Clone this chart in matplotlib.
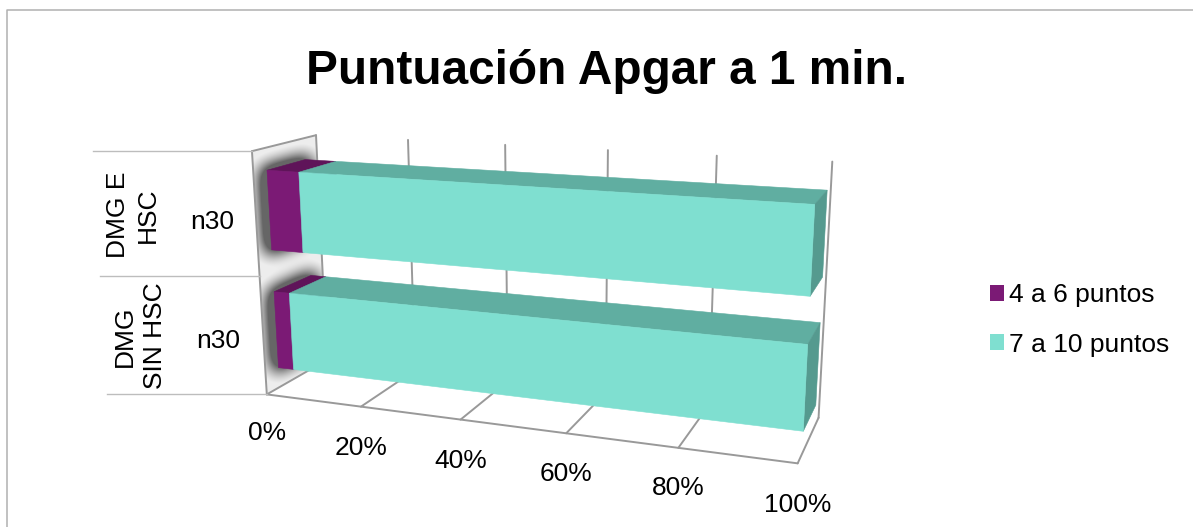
import numpy as np
import matplotlib
matplotlib.use("Agg")
import matplotlib.pyplot as plt
from matplotlib.patches import Patch, Polygon
from matplotlib.path import Path

plt.rcParams["font.family"] = ["Liberation Sans", "DejaVu Sans"]

# chart data, percent of each group
categories = ["DMG\nSIN HSC", "DMG E\nHSC"]
n_labels = ["n30", "n30"]
low_scores = [3.3, 6.7]
high_scores = [96.7, 93.3]
series_names = ["4 a 6 puntos", "7 a 10 puntos"]
x_ticks = [0, 20, 40, 60, 80, 100]

W, H = 1193, 527
FONT = 19

# (value, depth, height) -> pixel anchors used to solve the chart camera
anchors = [
    (0, 0, 0, 265.7, 394), (0, 0, 1, 251.7, 151.7), (0, 1, 1, 316.7, 135),
    (1, 0, 0, 796.7, 463.3), (1, 1, 0, 818.3, 418.3), (1, 1, 1, 832.7, 161.7),
    (.2, 0, 0, 361.7, 406), (.4, 0, 0, 460.7, 419.3), (.6, 0, 0, 567, 434),
    (.8, 0, 0, 679, 448), (.2, 1, 1, 407, 141), (.4, 1, 1, 506, 145),
    (.6, 1, 1, 608, 149), (.8, 1, 1, 716, 155),
]


def solve_camera(points):
    rows = []
    for x, d, z, u, v in points:
        u, v = u / 1000, v / 1000
        rows.append([x, d, z, 1, 0, 0, 0, 0, -u * x, -u * d, -u * z, -u])
        rows.append([0, 0, 0, 0, x, d, z, 1, -v * x, -v * d, -v * z, -v])
    return np.linalg.svd(np.array(rows))[2][-1].reshape(3, 4)


CAM = solve_camera(anchors)


def project(x, d, z):
    u, v, w = CAM @ np.array([x, d, z, 1.0])
    return float(u / w * 1000), float(v / w * 1000)


def face(ax, corners, color, zorder=3):
    ax.add_patch(Polygon([project(*c) for c in corners], closed=True, fc=color,
                         ec=color, lw=0.4, zorder=zorder))


def box_line(ax, start, end, color="#999999", lw=1.4, zorder=2):
    (x0, y0), (x1, y1) = project(*start), project(*end)
    ax.plot([x0, x1], [y0, y1], color=color, lw=lw, zorder=zorder,
            solid_capstyle="round")


def blur(img, sigma):
    r = int(3 * sigma)
    k = np.exp(-0.5 * (np.arange(-r, r + 1) / sigma) ** 2)
    k /= k.sum()
    img = np.apply_along_axis(lambda a: np.convolve(a, k, mode="same"), 0, img)
    return np.apply_along_axis(lambda a: np.convolve(a, k, mode="same"), 1, img)


fig = plt.figure(figsize=(W / 100, H / 100), dpi=100)
ax = fig.add_axes([0, 0, 1, 1])

BAR_FRONT, BAR_BACK = 0.2, 0.8
BAR_PAD, BAR_H = 0.085, 0.325
z_base = [i * 0.5 + BAR_PAD for i in range(len(categories))]

# side wall with the soft shadow thrown by the bars
wall_corners = [(0, 0, 0), (0, 0, 1), (0, 1, 1), (0, 1, 0)]
wall_px = [project(*c) for c in wall_corners]
xx, yy = np.meshgrid(np.arange(200, 370), np.arange(90, 440))
grid = np.c_[xx.ravel() + 0.5, yy.ravel() + 0.5]
mask = np.zeros(xx.shape)
for z0 in z_base:
    sil = [project(0, 0.1, z0 - 0.015), project(0, 0.1, z0 + BAR_H + 0.015),
           project(0, 0.9, z0 + BAR_H + 0.015), project(0, 0.9, z0 - 0.015)]
    mask[Path(sil).contains_points(grid).reshape(xx.shape)] = 1
shade = np.clip(1 - 1.25 * blur(mask, 9), 0.4, 0.93)
inside = Path(wall_px).contains_points(grid).reshape(xx.shape)
rgba = np.dstack([shade, shade, shade, inside.astype(float)])
ax.imshow(rgba, extent=(200, 370, 440, 90), aspect="auto", zorder=1,
          interpolation="nearest")

ax.set_xlim(0, W)
ax.set_ylim(H, 0)
ax.axis("off")

# outer chart border
ax.plot([6.5, 6.5, W], [H, 10, 10], color="#b0b0b0", lw=1.1)

# box outline and gridlines
for t in x_ticks:
    v = t / 100
    box_line(ax, (v, 0, 0), (v, 1, 0))
    box_line(ax, (v, 1, 0), (v, 1, 1))
box_line(ax, (0, 0, 0), (1, 0, 0))
box_line(ax, (0, 0, 0), (0, 0, 1))
box_line(ax, (0, 0, 1), (0, 1, 1))

# category separators out to the left of the wall
for z, left in zip([0, 0.5, 1], [107, 100, 93]):
    x0, y0 = project(0, 0, z)
    ax.plot([left, x0], [y0, y0], color="#bdbdbd", lw=1.0, zorder=2)

# stacked bars, upper one first
colors = [("#7B1A75", "#5F1459", "#5F1459"), ("#7FDFD0", "#60AEA1", "#559A8F")]
for i in reversed(range(len(categories))):
    z0, z1 = z_base[i], z_base[i] + BAR_H
    start = 0
    for value, (front, top, side) in zip([low_scores[i], high_scores[i]], colors):
        a, b = start / 100, (start + value) / 100
        face(ax, [(a, BAR_BACK, z1), (b, BAR_BACK, z1), (b, BAR_FRONT, z1), (a, BAR_FRONT, z1)], top)
        face(ax, [(b, BAR_FRONT, z0), (b, BAR_BACK, z0), (b, BAR_BACK, z1), (b, BAR_FRONT, z1)], side)
        face(ax, [(a, BAR_FRONT, z0), (b, BAR_FRONT, z0), (b, BAR_FRONT, z1), (a, BAR_FRONT, z1)], front)
        start += value

ax.text(607, 72, "Puntuación Apgar a 1 min.", fontsize=34.4, fontweight="bold",
        ha="center", va="center")

tick_offsets = [39, 41, 41, 41, 40, 42]
for t, dy in zip(x_ticks, tick_offsets):
    x0, y0 = project(t / 100, 0, 0)
    ax.text(x0, y0 + dy, f"{t}%", fontsize=FONT, ha="center", va="center")

for label, n, (cx, cy), (nx, ny) in zip(categories, n_labels,
                                        [(140, 336), (133, 215)],
                                        [(218, 341), (212, 222)]):
    ax.text(cx, cy, label, fontsize=FONT, rotation=90, ha="center", va="center",
            multialignment="center", linespacing=1.35)
    ax.text(nx, ny, n, fontsize=FONT, ha="center", va="center")

handles = [Patch(fc=colors[0][0], ec="none"), Patch(fc=colors[1][0], ec="none")]
ax.legend(handles, series_names, loc="center left", bbox_to_anchor=(990, 320),
          bbox_transform=ax.transData, frameon=False, fontsize=FONT,
          handlelength=0.53, handleheight=0.53, handletextpad=0.2,
          labelspacing=0.95, borderpad=0, borderaxespad=0)

fig.savefig("out.png", dpi=100)
